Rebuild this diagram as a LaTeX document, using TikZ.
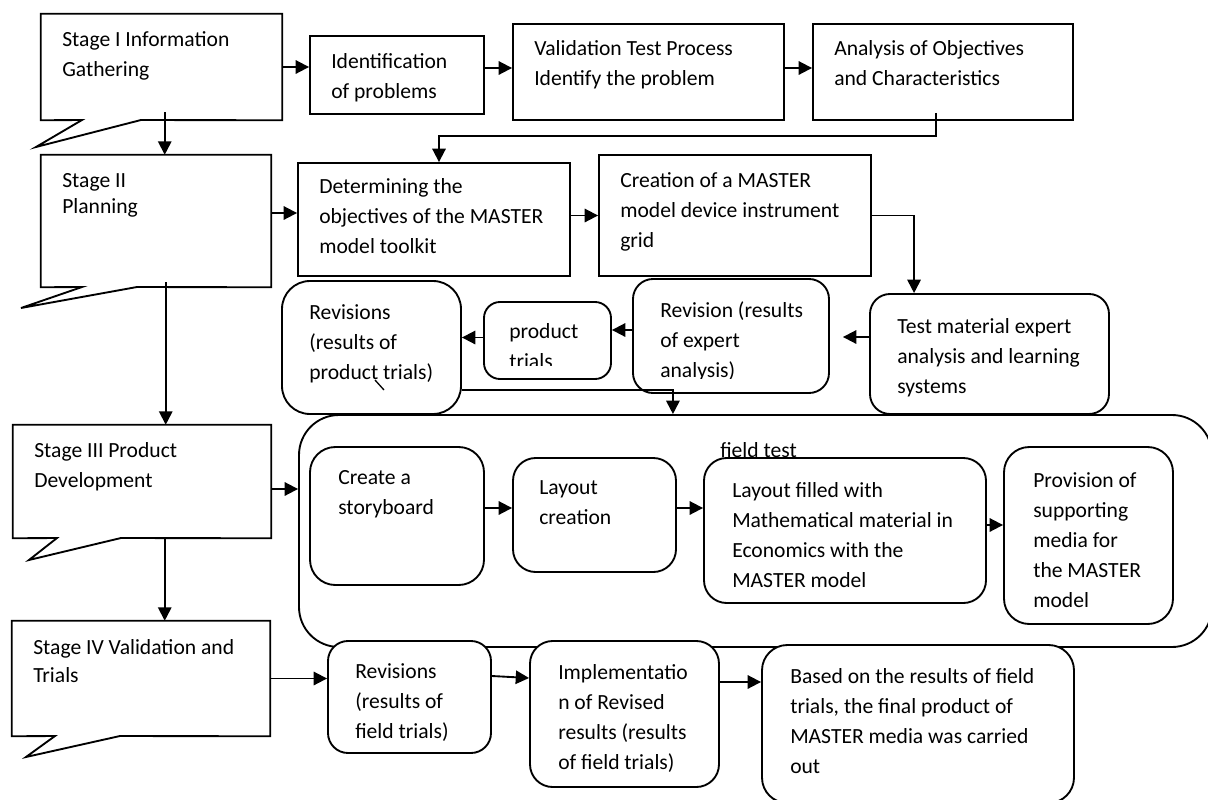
\documentclass[tikz,border=0pt]{standalone}
\usepackage{fontspec}
\setmainfont{Carlito}
\usetikzlibrary{arrows.meta,calc,fit}
\begin{document}
\begin{tikzpicture}[x=0.75pt,y=-0.75pt,
  line/.style={line width=1.4pt, line join=miter},
  box/.style={draw, line width=1.4pt, fill=white, inner sep=0pt},
  rbox/.style={box, rounded corners=#1},
  rbox/.default=15pt,
  frame/.style={inner sep=0pt},
  txt/.style={font=\fontsize{16.2pt}{22.5pt}\selectfont, align=left, inner sep=0pt,
    anchor=north west, yshift=10.8pt, execute at begin node={\rule{0pt}{13pt}}},
  arr/.style={line width=1.4pt, -{Triangle[length=10pt,width=10pt]}},
]
\useasboundingbox (0,0) rectangle (1208,800);

% ---- Stage callouts ----
\node[frame, fit={(41,14) (282,120)}] (s1) {};
\draw[line] (s1.south west) -- (s1.north west) -- (s1.north east) -- (s1.south east) -- (141,120) -- (36,147) -- (82,120) -- cycle;
\node[txt] (s1t) at (62,46) {Stage I Information\\Gathering};

\node[frame, fit={(41,155) (271,287)}] (s2) {};
\draw[line] (s2.south west) -- (s2.north west) -- (s2.north east) -- (s2.south east) -- (137,287) -- (21,308) -- (82,287) -- cycle;
\node[txt, font=\fontsize{16.2pt}{19pt}\selectfont] (s2t) at (62,188) {Stage II\\Planning};

\node[frame, fit={(13,425) (271,538)}] (s3) {};
\draw[line] (s3.south west) -- (s3.north west) -- (s3.north east) -- (s3.south east) -- (121,538) -- (29,560) -- (57,538) -- cycle;
\node[txt] (s3t) at (34,457) {Stage III Product\\Development};

\node[frame, fit={(12,621) (270,736)}] (s4) {};
\draw[line] (s4.south west) -- (s4.north west) -- (s4.north east) -- (s4.south east) -- (120,736) -- (26,757) -- (55,736) -- cycle;
\node[txt, font=\fontsize{16.2pt}{21pt}\selectfont] (s4t) at (33,654) {Stage IV Validation and\\Trials};

% ---- Row 1 ----
\node[box, fit={(310,36) (484,114)}] (id) {};
\node[txt] (idt) at (331,68) {Identification\\of problems};
\node[box, fit={(513,24) (784,120)}] (val) {};
\node[txt] (valt) at (534,55) {Validation Test Process\\Identify the problem};
\node[box, fit={(813,24) (1073,120)}] (an) {};
\node[txt] (ant) at (834,55) {Analysis of Objectives\\and Characteristics};

% ---- Row 2 ----
\node[box, fit={(298,163) (570,276)}] (det) {};
\node[txt] (dett) at (319,193) {Determining the\\objectives of the MASTER\\model toolkit};
\node[box, fit={(599,155) (871,276)}] (cre) {};
\node[txt] (cret) at (620,187) {Creation of a MASTER\\model device instrument\\grid};

% ---- Field test frame ----
\node[draw, line width=1.4pt, rounded corners=30pt, inner sep=0pt, fit={(299,415) (1212,647)}] (ft) {};

% ---- Row 3 (revisions) ----
\node[rbox=15pt, fit={(870,294) (1109,414)}] (test) {};
\node[txt] (testt) at (897,333) {Test material expert\\analysis and learning\\systems};
\node[rbox=15pt, fit={(633,279) (829,393)}] (rev) {};
\begin{scope}
\clip (633,279) rectangle (829,378);
\node[txt] (revt) at (660,316) {Revision (results\\of expert\\analysis)};
\end{scope}
\node[rbox=12pt, fit={(484,302) (611,379)}] (pt) {};
\begin{scope}
\clip (484,302) rectangle (611,365);
\node[txt] (ptt) at (509,338) {product\\trials};
\end{scope}
\node[rbox=21pt, fit={(282,281) (461,414)}] (rp) {};
\node[txt] (rpt) at (309,319) {Revisions\\(results of\\product trials)};
\draw[line width=1pt] (375,380) -- (384,390);

% ---- Inside field test ----
\node[rbox=19pt, fit={(310,447) (484,585)}] (sb) {};
\node[txt] (sbt) at (338,485) {Create a\\storyboard};
\node[rbox=17pt, fit={(513,458) (676,572)}] (lc) {};
\node[txt] (lct) at (539,495) {Layout\\creation};
\node[rbox=17pt, fit={(704,458) (986,603)}] (lf) {};
\node[txt] (lft) at (732,497) {Layout filled with\\Mathematical material in\\Economics with the\\MASTER model};
\node[rbox=19pt, fit={(1004,447) (1173,624)}] (pr) {};
\node[txt] (prt) at (1033,487) {Provision of\\supporting\\media for\\the MASTER\\model};
\node[txt] (ftt) at (720,454) {field test};

% ---- Bottom row ----
\node[rbox=15pt, fit={(328,641) (491,753)}] (rf) {};
\node[txt] (rft) at (355,678) {Revisions\\(results of\\field trials)};
\node[rbox=17pt, fit={(530,641) (719,787)}] (im) {};
\node[txt] (imt) at (558,679) {Implementatio\\n of Revised\\results (results\\of field trials)};
\node[rbox=19pt, fit={(762,645) (1074,803)}] (bs) {};
\node[txt] (bst) at (790,683) {Based on the results of field\\trials, the final product of\\MASTER media was carried\\out};

% ---- Connectors ----
\draw[arr] (s1.east) -- (s1.east -| id.west);
\draw[arr] ($(id.east)+(0,-7)$) coordinate (a2) -- (a2 -| val.west);
\draw[arr] ($(val.east)+(0,-4)$) coordinate (a3) -- (a3 -| an.west);
\draw[arr] ($(an.south)+(-7,-8)$) -- ++(0,23) -| ($(det.north)+(5,0)$);
\draw[arr] ($(s1.south west)+(124,-8)$) coordinate (a1) -- (a1 |- s2.north);
\draw[arr] ($(s2.east)+(0,-8)$) coordinate (a5) -- (a5 -| det.west);
\draw[arr] ($(det.east)+(0,-4)$) coordinate (a6) -- (a6 -| cre.west);
\draw[arr] (cre.east) -| ($(test.north west)+(45,0)$);
\draw[arr, shorten >=9.75pt] ($(test.west)+(0,-17)$) coordinate (a8) -- (a8 -| rev.east);
\draw[arr] ($(rev.west)+(0,-6)$) coordinate (a9) -- (a9 -| pt.east);
\draw[arr] ($(pt.west)+(0,-3)$) coordinate (a10) -- (a10 -| rp.east);
\draw[arr] ($(rp.east)+(0,42.5)$) -- ++(211,0) coordinate (b11) -- (b11 |- ft.north);
\draw[arr] ($(s2.south west)+(125,-5)$) coordinate (a12) -- (a12 |- s3.north);
\draw[arr] ($(s3.east)+(0,7.5)$) coordinate (a13) -- (a13 -| ft.west);
\draw[arr] ($(sb.east)+(0,-8)$) coordinate (a14) -- (a14 -| lc.west);
\draw[arr] ($(lc.east)+(0,-7)$) coordinate (a15) -- (a15 -| lf.west);
\draw[arr] ($(lf.east)+(0,-5.5)$) coordinate (a16) -- (a16 -| pr.west);
\draw[arr] ($(s3.south west)+(152,0)$) coordinate (a17) -- (a17 |- s4.north);
\draw[arr] (s4.east) -- (s4.east -| rf.west);
\draw[arr] ($(rf.east)+(0,-21)$) -- ($(im.west)+(0,-36)$);
\draw[arr] ($(im.east)+(0,-32)$) coordinate (a20) -- (a20 -| bs.west);
\end{tikzpicture}
\end{document}
